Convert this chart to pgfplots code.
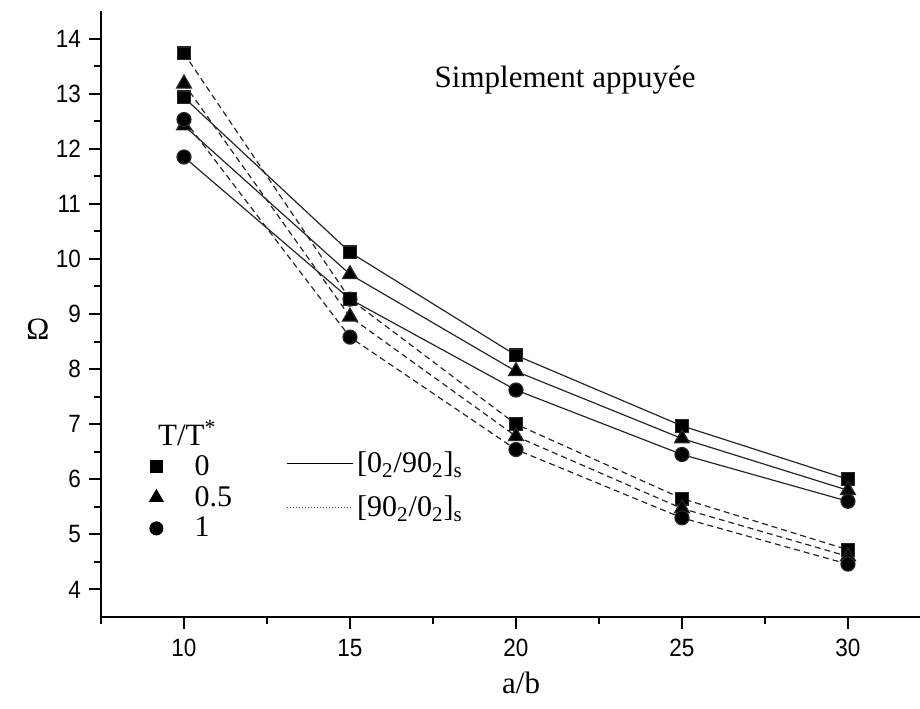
\documentclass[border=0pt]{standalone}
\usepackage{fontspec}
\setmainfont{Liberation Serif}
\newfontfamily\sansf[FakeStretch=0.9]{Liberation Sans}
\usepackage{pgfplots}
\pgfplotsset{compat=1.18}
\begin{document}
\begin{tikzpicture}
\pgfplotsset{
  common/.style={
    scale only axis, width=409.5pt, height=303pt,
    xmin=7.5, xmax=32.17, ymin=3.5, ymax=14.5,
  },
  sq/.style={mark=square*, mark size=3.2pt, mark options={solid,fill=black}},
  tri/.style={mark=triangle*, mark size=4.3pt, mark options={solid,fill=black}},
  cir/.style={mark=*, mark size=3.5pt, mark options={solid,fill=black}},
  sol/.style={black!85, line width=0.6pt},
  das/.style={black!85, line width=0.6pt, dash pattern=on 3pt off 2pt},
}
\begin{axis}[common, name=ax,
  axis lines*=left,
  axis line style={line width=1pt},
  tick align=outside,
  xtick={10,15,20,25,30},
  minor xtick={7.5,12.5,17.5,22.5,27.5},
  ytick={4,5,...,14},
  minor ytick={4.5,5.5,...,13.5},
  major tick length=6pt, minor tick length=3.5pt,
  every tick/.style={black, line width=1pt},
  ticklabel style={font=\sansf\fontsize{12.5}{13}\selectfont},
  xticklabel style={yshift=-1.5pt},
  yticklabel style={xshift=-0.5pt},
  /pgf/number format/assume math mode=true,
  xlabel={a/b}, ylabel={Ω},
  label style={font=\fontsize{15.5}{16}\selectfont},
  xlabel style={at={(axis description cs:0.513,-0.109)}, anchor=center},
  ylabel style={at={(axis description cs:-0.077,0.475)}, anchor=center, rotate=-90},
  legend style={at={(axis description cs:0.039,0.281)}, anchor=north west,
    draw=none, fill=none, font=\fontsize{15}{15}\selectfont,
    row sep=0pt, cells={anchor=west}},
  legend image code/.code={\path[draw=none,fill=none] (0cm,-0.1cm) rectangle (0.9cm,0.1cm); \draw[#1] plot coordinates {(0.3cm,0cm)};},
  clip=false,
]
% solid [0_2/90_2]_s
\addplot[sol, sq, forget plot] coordinates {(10,12.93) (15,10.12) (20,8.25) (25,6.97) (30,6.0)};
\addplot[sol, tri, forget plot] coordinates {(10,12.42) (15,9.72) (20,7.96) (25,6.74) (30,5.8)};
\addplot[sol, cir, forget plot] coordinates {(10,11.85) (15,9.27) (20,7.62) (25,6.45) (30,5.6)};
% dashed [90_2/0_2]_s
\addplot[das, sq, forget plot] coordinates {(10,13.73) (15,9.27) (20,7.0) (25,5.65) (30,4.72)};
\addplot[das, tri, forget plot] coordinates {(10,13.18) (15,8.95) (20,6.78) (25,5.47) (30,4.6)};
\addplot[das, cir, forget plot] coordinates {(10,12.53) (15,8.58) (20,6.54) (25,5.3) (30,4.46)};
\addlegendimage{only marks, mark=square*, mark size=3pt, fill=black}
\addlegendentry{0}
\addlegendimage{only marks, mark=triangle*, mark size=4pt, fill=black}
\addlegendentry{0.5}
\addlegendimage{only marks, mark=*, mark size=3.3pt, fill=black}
\addlegendentry{1}
\node[anchor=center, font=\fontsize{15.5}{16}\selectfont] at (axis cs:10.1,6.84) {T/T\textsuperscript{*}};
\node[anchor=center, font=\fontsize{15.5}{16}\selectfont] at (axis cs:21.48,13.25) {Simplement appuyée};
\end{axis}
\begin{axis}[common, hide axis,
  legend style={at={(axis description cs:0.219,0.286)}, anchor=north west,
    draw=none, fill=none, font=\fontsize{15}{15}\selectfont,
    row sep=6pt, cells={anchor=west}},
  legend image code/.code={\draw[#1] (0cm,0cm) -- (1.15cm,0cm);},
]
\addlegendimage{black, line width=0.5pt}
\addlegendentry{[0\textsubscript{2}/90\textsubscript{2}]\textsubscript{s}}
\addlegendimage{black!70, line width=0.5pt, densely dotted}
\addlegendentry{[90\textsubscript{2}/0\textsubscript{2}]\textsubscript{s}}
\end{axis}
\pgfresetboundingbox
\path ([xshift=-50.5pt,yshift=-45.5pt]ax.south west) rectangle ([yshift=5.5pt]ax.north east);
\end{tikzpicture}
\end{document}
